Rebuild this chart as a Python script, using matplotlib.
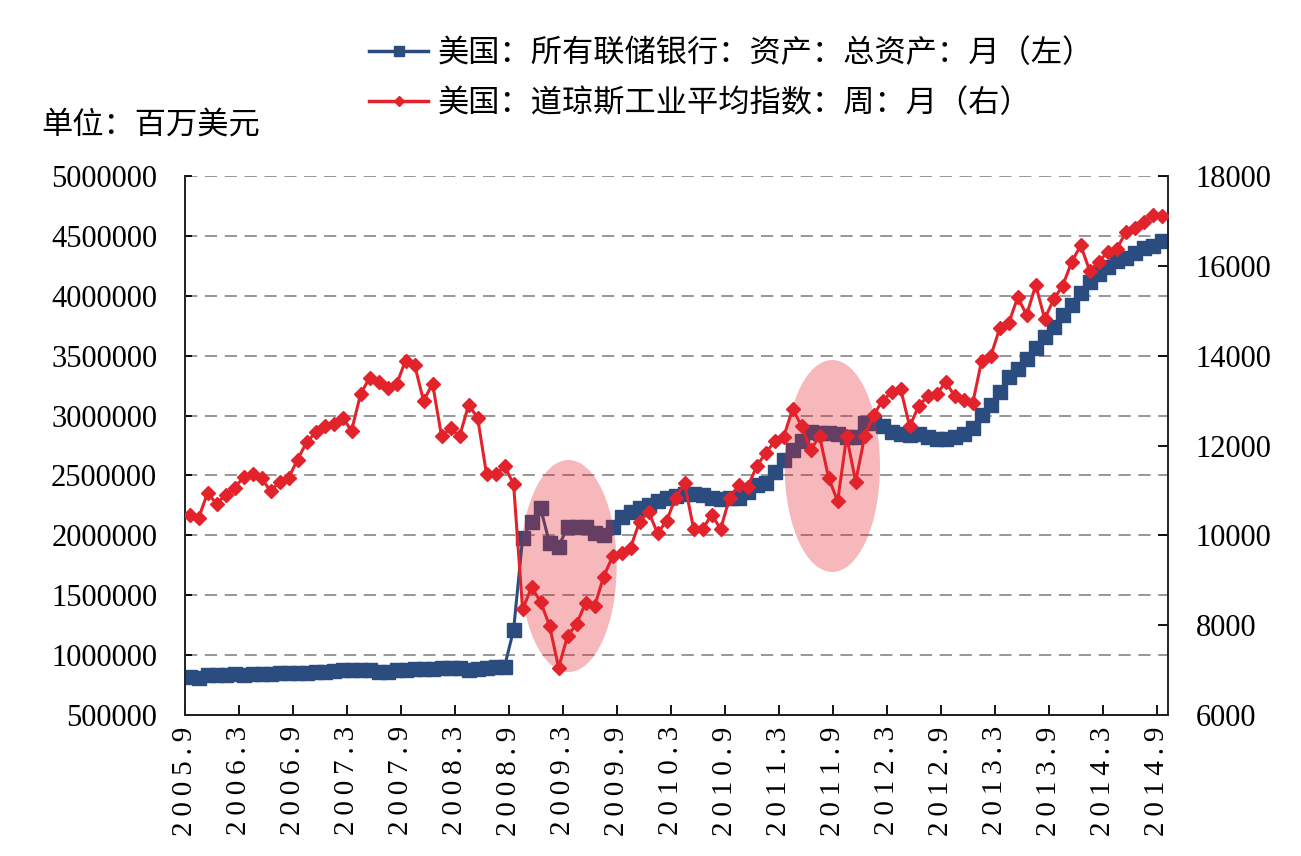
import matplotlib
matplotlib.use("Agg")
import matplotlib.pyplot as plt
from matplotlib.patches import Ellipse
from matplotlib.lines import Line2D
from matplotlib.ticker import FuncFormatter

# monthly data, 2005.9 .. 2014.9
assets = [820000, 812000, 835000, 838000, 832000, 840000, 835000, 842000, 845000,
          846000, 847000, 848000, 849000, 850000, 860000, 862000, 864000, 875000,
          872000, 878000, 876000, 862000, 858000, 876000, 878000, 880000, 880000,
          882000, 892000, 893000, 890000, 872000, 885000, 890000, 902000, 905000,
          1210000,
          1975000, 2114000, 2226000, 1933000, 1905000, 2072000, 2072000, 2072000,
          2017000, 2003000, 2072000, 2156000, 2196000, 2225000, 2255000, 2285000,
          2314000, 2329000, 2344000, 2344000, 2338000, 2314000, 2300000, 2314000,
          2314000, 2359000, 2419000, 2433000, 2530000, 2629000, 2710000, 2790000,
          2860000, 2852000, 2852000, 2850000, 2822000, 2820000, 2940000, 2940000,
          2915000, 2865000, 2850000, 2835000, 2850000, 2820000, 2805000, 2805000,
          2820000, 2850000, 2894000, 3007000, 3088000, 3198000, 3326000, 3391000,
          3474000, 3564000, 3653000, 3742000, 3840000, 3920000, 4025000, 4114000,
          4179000, 4239000, 4292000, 4316000, 4358000, 4396000, 4417000, 4456000]

dow = [10443, 10379, 10942, 10705, 10895, 11061, 11291, 11370, 11275, 10982, 11196, 11275,
       11688, 12068, 12290, 12425, 12489, 12623, 12330, 13139, 13512, 13417, 13282, 13361,
       13892, 13797, 12996, 13377, 12203, 12386, 12203, 12901, 12623, 11355, 11355, 11537,
       11141, 8357, 8841, 8524, 7985, 7057, 7762, 8024, 8500, 8421, 9079, 9531,
       9610, 9729, 10308, 10522, 10046, 10324, 10839, 11156, 10141, 10141, 10459, 10141,
       10839, 11116, 11077, 11537, 11831, 12092, 12187, 12822, 12425, 11910, 12203, 11275,
       10760, 12203, 11196, 12203, 12687, 12996, 13194, 13258, 12425, 12877, 13099, 13139,
       13417, 13099, 13004, 12941, 13892, 13987, 14606, 14725, 15296, 14907, 15573, 14820,
       15256, 15558, 16089, 16454, 15891, 16089, 16311, 16367, 16748, 16842, 16969, 17128,
       17120]

tick_labels = ["2005.9", "2006.3", "2006.9", "2007.3", "2007.9", "2008.3", "2008.9",
               "2009.3", "2009.9", "2010.3", "2010.9", "2011.3", "2011.9", "2012.3",
               "2012.9", "2013.3", "2013.9", "2014.3", "2014.9"]

label_assets = "美国：所有联储银行：资产：总资产：月（左）"
label_dow = "美国：道琼斯工业平均指数：周：月（右）"
unit_text = "单位：百万美元"

BLUE = "#2b4c7e"
RED = "#e3232c"
NUM_FONT = ["Liberation Serif", "DejaVu Serif"]
CJK = ["Noto Sans CJK SC", "DejaVu Sans"]

x = list(range(len(assets)))

fig = plt.figure(figsize=(13.01, 8.56), dpi=100)
ax = fig.add_axes([0.1422, 0.1647, 0.7556, 0.6297])
ax2 = ax.twinx()

ax.plot(x, assets, color=BLUE, lw=2.2, marker="s", ms=10, mec=BLUE, zorder=2)
for cx, cy, w, h in [(42.1, 1744000, 10.7, 1770000), (71.4, 2579000, 10.6, 1770000)]:
    ax.add_patch(Ellipse((cx, cy), w, h, facecolor=RED, alpha=0.32,
                         edgecolor="none", zorder=3))
ax2.plot(x, dow, color=RED, lw=2.2, marker="D", ms=7.5, mec=RED, zorder=4)

ax.set_xlim(-0.5, 108.7)
ax.set_ylim(500000, 5000000)
ax2.set_ylim(6000, 18000)
ax.set_yticks(range(500000, 5000001, 500000))
ax.yaxis.set_major_formatter(FuncFormatter(lambda v, p: "%d" % v))
ax2.set_yticks(range(6000, 18001, 2000))
ax.set_xticks([i * 6 - 0.5 for i in range(len(tick_labels))])
# spread the characters a little, like the original
spaced = ["\u2009".join(t) for t in tick_labels]
ax.set_xticklabels(spaced, rotation=90, fontfamily=NUM_FONT, fontsize=21)

for a in (ax, ax2):
    a.spines["top"].set_visible(False)
    for s in a.spines.values():
        s.set_linewidth(1.4)
        s.set_color("#222222")
ax2.spines["left"].set_visible(False)
ax.spines["right"].set_visible(False)

ax.yaxis.grid(True, linestyle=(0, (8, 5)), color="#7a7a7a", lw=1.1)
ax.set_axisbelow(True)

ax.tick_params(axis="y", direction="in", length=5, width=1.3, pad=20, labelsize=22)
ax.tick_params(axis="x", direction="in", length=7, width=1.3, pad=8)
ax2.tick_params(axis="y", direction="in", length=7, width=1.3, pad=20, labelsize=22)
for t in ax.get_yticklabels() + ax2.get_yticklabels():
    t.set_fontfamily(NUM_FONT)

handles = [Line2D([], [], color=BLUE, lw=2.5, marker="s", ms=7),
           Line2D([], [], color=RED, lw=2.5, marker="D", ms=5)]
fig.legend(handles, [label_assets, label_dow], loc="upper left",
           bbox_to_anchor=(0.262, 0.99), frameon=False, handlelength=1.9,
           handletextpad=0.3, labelspacing=0.6, prop={"family": CJK, "size": 22.5})

fig.text(0.032, 1 - 125 / 856, unit_text, fontfamily=CJK, fontsize=22.5, va="center")

fig.savefig("out.png", dpi=100)
